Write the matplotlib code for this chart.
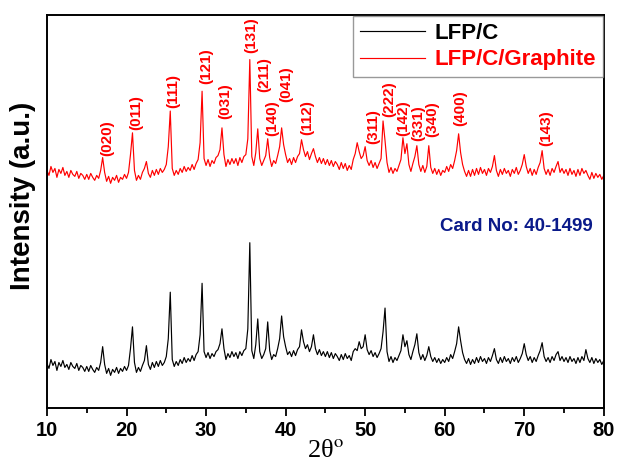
import numpy as np
import matplotlib
matplotlib.use("Agg")
import matplotlib.pyplot as plt
import matplotlib.ticker as ticker

plt.rcParams["font.family"] = ["Liberation Sans", "DejaVu Sans"]
plt.rcParams["mathtext.fontset"] = "stix"

# 2theta grid of the scans, 0.25 deg steps from 10 to 80
two_theta = np.arange(10, 80.001, 0.25)

# LFP/C (black) intensities, rows of 5 degrees
lfp_c = [
    43, 38, 47, 41, 45, 36, 44, 40, 46, 39, 42, 37, 44, 40, 38, 43, 36, 41, 39, 35,
    40, 35, 41, 37, 34, 39, 36, 44, 60, 42, 33, 38, 31, 37, 34, 39, 33, 38, 35, 40,
    36, 41, 58, 80, 44, 34, 39, 35, 41, 46, 61, 42, 37, 44, 39, 45, 40, 46, 41, 44,
    50, 68, 115, 47, 40, 45, 41, 47, 43, 49, 44, 48, 45, 51, 46, 52, 55, 72, 124, 55,
    49, 54, 48, 53, 50, 55, 57, 63, 78, 58, 47, 53, 49, 55, 50, 54, 48, 55, 51, 56,
    58, 78, 165, 56, 48, 62, 88, 55, 48, 52, 58, 85, 56, 47, 52, 50, 58, 68, 91, 70,
    60, 52, 55, 50, 56, 51, 57, 60, 77, 65, 58, 62, 55, 60, 72, 58, 52, 57, 51, 55,
    50, 55, 49, 54, 48, 53, 50, 46, 52, 47, 53, 48, 51, 46, 55, 58, 56, 65, 58, 60,
    72, 57, 52, 56, 50, 54, 49, 53, 58, 75, 99, 55, 45, 50, 44, 49, 46, 51, 56, 72,
    60, 66, 52, 47, 55, 62, 73, 54, 47, 52, 46, 51, 60, 50, 45, 49, 44, 48, 43, 47,
    44, 49, 45, 52, 48, 55, 63, 80, 66, 54, 47, 43, 48, 42, 47, 43, 49, 44, 50, 45,
    48, 43, 49, 45, 51, 58, 47, 43, 49, 44, 50, 45, 48, 43, 49, 45, 50, 44, 48, 53,
    63, 52, 46, 50, 44, 49, 45, 51, 56, 64, 50, 45, 49, 44, 50, 46, 52, 55, 46, 50,
    45, 49, 44, 50, 45, 48, 43, 49, 44, 50, 46, 57, 48, 44, 49, 43, 48, 44, 47, 42,
    46,
]

# LFP/C/Graphite (red) intensities, same grid, already offset upward
lfp_c_graphite = [
    238, 233, 242, 236, 240, 231, 239, 235, 241, 233, 237, 231, 238, 234, 232, 237, 230, 235, 233, 229,
    234, 229, 235, 231, 228, 233, 230, 238, 251, 236, 227, 232, 225, 231, 228, 233, 226, 231, 229, 234,
    230, 236, 254, 276, 238, 228, 233, 229, 236, 240, 247, 235, 231, 238, 233, 239, 234, 240, 236, 239,
    244, 262, 298, 240, 233, 238, 234, 240, 236, 242, 237, 241, 238, 244, 239, 245, 249, 266, 318, 250,
    243, 249, 242, 248, 245, 251, 253, 259, 281, 254, 242, 249, 244, 250, 245, 250, 243, 251, 246, 252,
    254, 270, 350, 252, 243, 256, 280, 250, 243, 248, 253, 270, 251, 242, 248, 245, 253, 262, 281, 264,
    254, 246, 250, 244, 251, 246, 252, 255, 269, 259, 252, 257, 249, 255, 260, 252, 246, 251, 245, 250,
    244, 249, 243, 248, 242, 247, 244, 239, 246, 240, 245, 238, 243, 239, 249, 255, 266, 257, 250, 253,
    262, 248, 243, 248, 241, 246, 240, 245, 250, 288, 268, 246, 236, 241, 235, 240, 237, 243, 249, 271,
    255, 265, 244, 237, 245, 252, 263, 244, 237, 243, 236, 242, 263, 241, 235, 240, 234, 239, 233, 238,
    236, 242, 237, 244, 240, 248, 258, 275, 256, 244, 237, 232, 238, 232, 239, 233, 240, 234, 241, 235,
    239, 233, 240, 236, 242, 253, 238, 232, 239, 234, 240, 235, 238, 232, 239, 235, 241, 234, 238, 244,
    254, 242, 235, 240, 233, 239, 234, 241, 246, 258, 240, 234, 239, 233, 240, 236, 242, 247, 236, 240,
    235, 239, 233, 240, 234, 238, 232, 239, 233, 240, 235, 238, 233, 229, 236, 230, 235, 231, 234, 229,
    233,
]

# Miller indices and where their labels sit
hkl_labels = ["(020)", "(011)", "(111)", "(121)", "(031)", "(131)", "(211)", "(140)", "(041)",
              "(112)", "(311)", "(222)", "(142)", "(331)", "(340)", "(400)", "(143)"]
hkl_x = [17.54, 21.19, 25.83, 29.98, 32.37, 35.64, 37.27, 38.28, 40.04,
         42.68, 50.97, 52.98, 54.74, 56.63, 58.39, 61.91, 72.71]
hkl_y = [253, 279, 301, 325, 290, 357, 317, 273, 307,
         274, 265, 292, 273, 268, 272, 283, 263]

fig = plt.figure(figsize=(6.18, 4.69), dpi=100)
ax = fig.add_axes([0.076, 0.130, 0.901, 0.838])

ax.plot(two_theta, lfp_c, color="black", linewidth=0.85, label="LFP/C")
ax.plot(two_theta, lfp_c_graphite, color="red", linewidth=0.85, label="LFP/C/Graphite")

for lab, x, y in zip(hkl_labels, hkl_x, hkl_y):
    ax.text(x, y, lab, rotation=90, ha="center", va="bottom", color="red",
            fontsize=11, fontweight="bold")

ax.text(78.6, 181, "Card No: 40-1499", ha="right", va="center", color="#0a1a8a",
        fontsize=13.5, fontweight="bold")

ax.set_xlim(10, 80)
ax.set_ylim(-2, 395)
ax.set_yticks([])
ax.xaxis.set_major_locator(ticker.MultipleLocator(10))
ax.xaxis.set_minor_locator(ticker.MultipleLocator(5))
ax.tick_params(axis="x", which="major", direction="out", length=6, width=1.3, labelsize=14.5, pad=3)
ax.tick_params(axis="x", which="minor", direction="out", length=3.5, width=1.3)
for lab in ax.get_xticklabels():
    lab.set_fontweight("bold")
for sp in ax.spines.values():
    sp.set_linewidth(1.4)

ax.set_xlabel(r"2θ$^{\mathrm{o}}$", fontsize=19, family="Liberation Serif", labelpad=0)
ax.set_ylabel("Intensity (a.u.)", fontsize=20, fontweight="bold")
ax.yaxis.set_label_coords(-0.02, 0.54)

leg = ax.legend(loc="upper right", frameon=True, fancybox=False,
                borderaxespad=0.05, handlelength=2.9, handletextpad=0.45,
                borderpad=0.3, labelspacing=0.25,
                prop={"weight": "bold", "size": 16})
leg.get_frame().set_edgecolor("gray")
leg.get_frame().set_linewidth(1.0)
for txt, col in zip(leg.get_texts(), ["black", "red"]):
    txt.set_color(col)

plt.savefig("out.png", dpi=100)
plt.close(fig)
